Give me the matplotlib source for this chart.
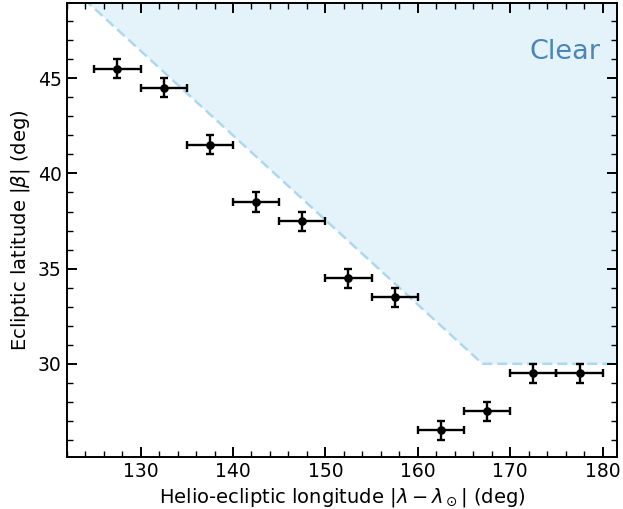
import matplotlib
matplotlib.use("Agg")
import matplotlib.pyplot as plt
from matplotlib.ticker import MultipleLocator

# binned detections: bin centre, half-width, latitude and its uncertainty
lon = [127.5, 132.5, 137.5, 142.5, 147.5, 152.5, 157.5, 162.5, 167.5, 172.5, 177.5]
lon_err = [2.5] * len(lon)
lat = [45.5, 44.5, 41.5, 38.5, 37.5, 34.5, 33.5, 26.5, 27.5, 29.5, 29.5]
lat_err = [0.5] * len(lat)

# boundary of the clear region
clear_lon = [122, 167, 183]
clear_lat = [50, 30, 30]

fig = plt.figure(figsize=(6.23, 5.09), dpi=100)
ax = fig.add_axes([0.107, 0.102, 0.884, 0.892])

ax.fill_between(clear_lon, clear_lat, 50, color="#e4f3fa", lw=0, zorder=0)
ax.plot(clear_lon, clear_lat, ls=(0, (4, 2)), color="#acd8f0", lw=1.8, zorder=1)
ax.text(175.9, 46.4, "Clear", color="#4a86b8", fontsize=19.5, ha="center", va="center")

ax.errorbar(lon, lat, xerr=lon_err, yerr=lat_err, fmt="o", color="black",
            ms=5.2, elinewidth=1.7, capsize=3, capthick=1.7, zorder=3)

ax.set_xlim(122, 181.6)
ax.set_ylim(25.1, 48.95)
ax.xaxis.set_major_locator(MultipleLocator(10))
ax.xaxis.set_minor_locator(MultipleLocator(2))
ax.yaxis.set_major_locator(MultipleLocator(5))
ax.yaxis.set_minor_locator(MultipleLocator(1))
ax.tick_params(which="both", direction="in", top=True, right=True, labelsize=13.5)
ax.tick_params(which="major", length=7, width=1.4)
ax.tick_params(which="minor", length=4, width=1.0)
for s in ax.spines.values():
    s.set_linewidth(1.4)

ax.set_xlabel(r"Helio-ecliptic longitude $|\lambda - \lambda_\odot|$ (deg)", fontsize=14)
ax.set_ylabel(r"Ecliptic latitude $|\beta|$ (deg)", fontsize=14)

fig.savefig("out.png", dpi=100)
